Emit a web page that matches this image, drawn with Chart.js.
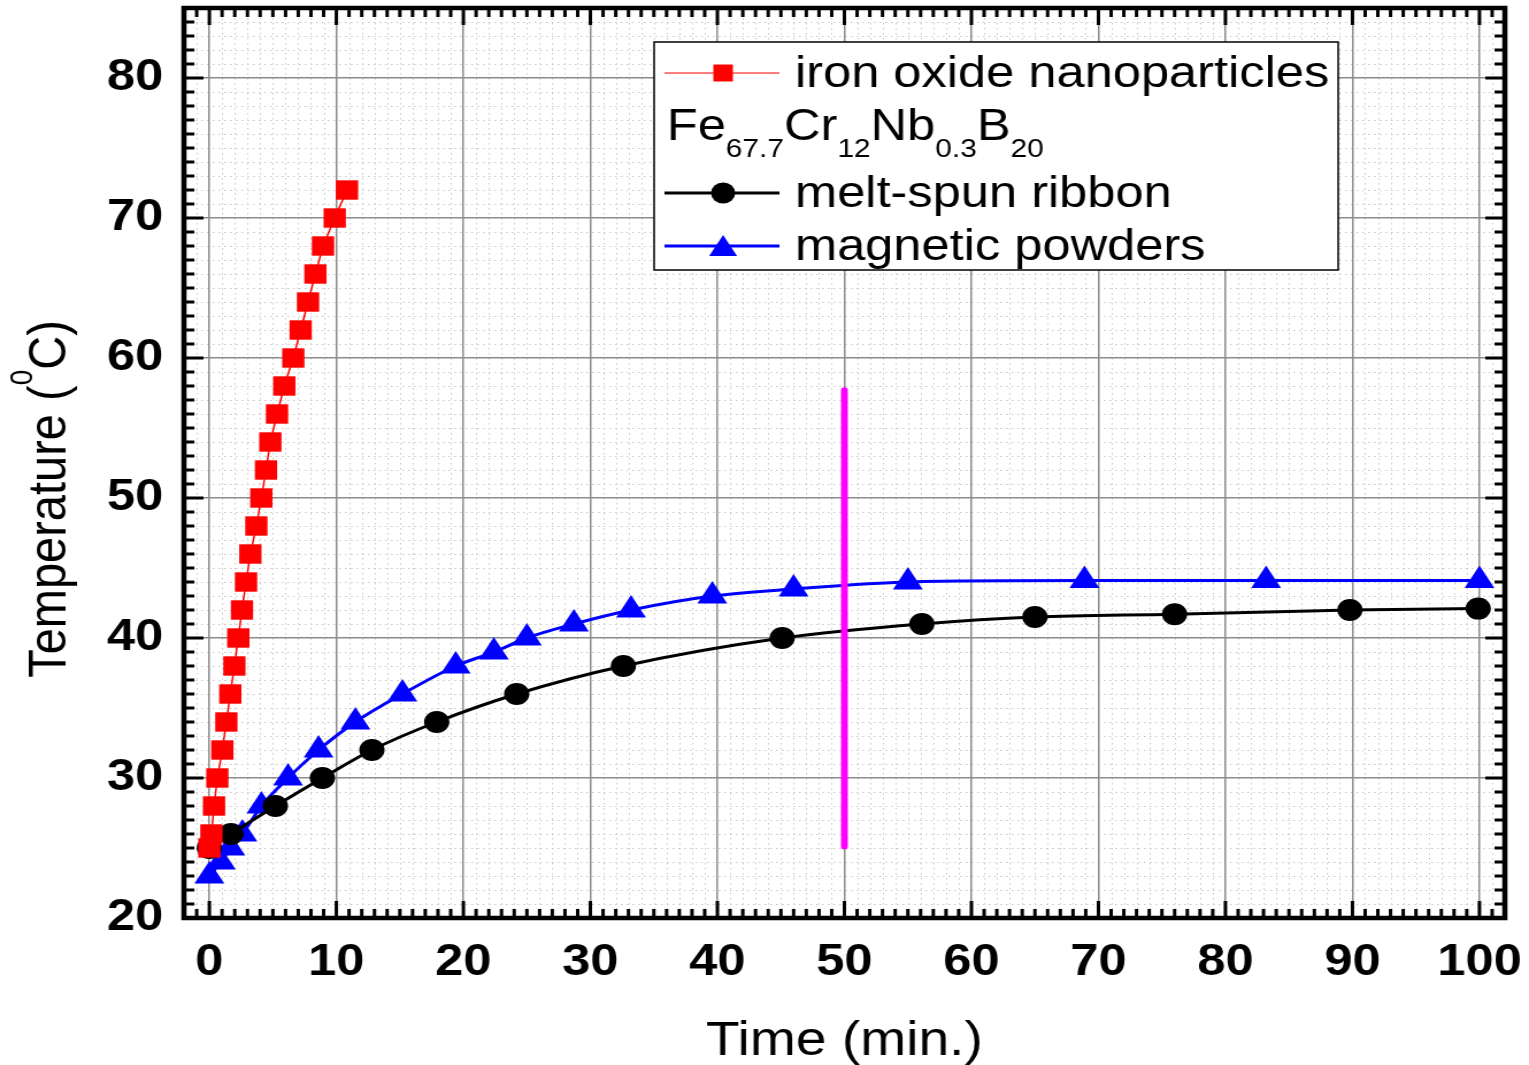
<!DOCTYPE html>
<html>
<head>
<meta charset="utf-8">
<script src="https://cdn.jsdelivr.net/npm/chart.js@4.4.0/dist/chart.umd.min.js"></script>
<style>
  html, body { margin: 0; padding: 0; background: #fff; overflow: hidden; }
  #wrap { width: 1529px; height: 1065px; overflow: hidden; position: relative; }
  /* the figure is laid out on a narrower canvas and widened to the page */
  #c { position: absolute; left: 0; top: 0; transform-origin: 0 0; transform: scaleX(1.14962); }
</style>
</head>
<body>
<div id="wrap"><canvas id="c" width="1330" height="1065"></canvas></div>
<script>
// ---- data ----
const ironTime   = [0, 0.16, 0.37, 0.63, 1.02, 1.34, 1.65, 1.97, 2.28, 2.57, 2.89, 3.23, 3.7, 4.09, 4.46, 4.8, 5.33, 5.9, 6.61, 7.19, 7.77, 8.35, 8.95, 9.87, 10.84];
const ironTemp   = [25, 26, 28, 30, 32, 34, 36, 38, 40, 42, 44, 46, 48, 50, 52, 54, 56, 58, 60, 62, 64, 66, 68, 70, 72];

const ribbonTime = [0, 1.7, 5.2, 8.9, 12.8, 17.9, 24.2, 32.6, 45.1, 56.1, 65.0, 76.0, 89.8, 99.9];
const ribbonTemp = [25, 26, 28, 30, 32, 34, 36, 38, 40, 41, 41.5, 41.7, 42.0, 42.1];

const powderTime = [0, 0.9, 1.65, 2.6, 4.1, 6.2, 8.6, 11.5, 15.2, 19.4, 22.4, 25.0, 28.7, 33.2, 39.6, 46.0, 55.0, 68.9, 83.2, 100];
const powderTemp = [23, 24, 25, 26, 28, 30, 32, 34, 36, 38, 39, 40, 41, 42, 43, 43.5, 44, 44.1, 44.1, 44.1];

const markTime   = [50, 50];
const markTemp   = [25.1, 57.7];

const seriesNames = ['iron oxide nanoparticles', 'melt-spun ribbon', 'magnetic powders'];
const alloyParts  = [['Fe', '67.7'], ['Cr', '12'], ['Nb', '0.3'], ['B', '20']];

const xTickValues = [0, 10, 20, 30, 40, 50, 60, 70, 80, 90, 100];
const yTickValues = [20, 30, 40, 50, 60, 70, 80];
const xRange = [-2, 102];
const yRange = [20, 85];

const xTitle = 'Time (min.)';
const yTitleParts = ['Temperature (', '0', 'C)'];

// ---- helpers ----
const FONT = "'Liberation Sans', Arial, Helvetica, sans-serif";
const pts = (xs, ys) => xs.map((x, i) => ({ x, y: ys[i] }));

// dotted minor grid under everything
const minorGrid = {
  id: 'minorGrid',
  beforeDraw(chart) {
    const { ctx, chartArea: a, scales: { x, y } } = chart;
    ctx.save();
    ctx.strokeStyle = '#c8c8c8';
    ctx.lineWidth = 1;
    ctx.setLineDash([1.5, 3.5]);
    ctx.beginPath();
    for (let v = xRange[0] + 1; v < xRange[1]; v++) {
      if (v % 10 === 0) continue;
      const px = Math.round(x.getPixelForValue(v)) + 0.5;
      ctx.moveTo(px, a.top); ctx.lineTo(px, a.bottom);
    }
    for (let v = yRange[0] + 1; v < yRange[1]; v++) {
      if (v % 10 === 0) continue;
      const py = Math.round(y.getPixelForValue(v)) + 0.5;
      ctx.moveTo(a.left, py); ctx.lineTo(a.right, py);
    }
    ctx.stroke();
    ctx.restore();
  }
};

// heavy frame with inward ticks on all four sides
const frame = {
  id: 'frame',
  afterDatasetsDraw(chart) {
    const { ctx, chartArea: a, scales: { x, y } } = chart;
    ctx.save();
    ctx.strokeStyle = '#000';
    ctx.lineCap = 'butt';
    ctx.lineWidth = 3;
    ctx.beginPath();
    for (let v = xRange[0] + 1; v < xRange[1]; v++) {
      const len = v % 10 === 0 ? 17 : 9;
      const px = x.getPixelForValue(v);
      ctx.moveTo(px, a.bottom); ctx.lineTo(px, a.bottom - len);
      ctx.moveTo(px, a.top); ctx.lineTo(px, a.top + len);
    }
    for (let v = yRange[0] + 1; v < yRange[1]; v++) {
      const len = v % 10 === 0 ? 17 : 9;
      const py = y.getPixelForValue(v);
      ctx.moveTo(a.left, py); ctx.lineTo(a.left + len, py);
      ctx.moveTo(a.right, py); ctx.lineTo(a.right - len, py);
    }
    ctx.stroke();
    ctx.lineWidth = 4.5;
    ctx.strokeRect(a.left, a.top, a.right - a.left, a.bottom - a.top);
    ctx.restore();
  }
};

// rotated y title with superscript
const yTitle = {
  id: 'yTitle',
  afterDraw(chart) {
    const ctx = chart.ctx;
    const big = `47px ${FONT}`, small = `28px ${FONT}`;
    ctx.save();
    ctx.fillStyle = '#000';
    ctx.textBaseline = 'alphabetic';
    ctx.textAlign = 'left';
    ctx.font = big;   const w1 = ctx.measureText(yTitleParts[0]).width;
    ctx.font = small; const w2 = ctx.measureText(yTitleParts[1]).width;
    ctx.font = big;   const w3 = ctx.measureText(yTitleParts[2]).width;
    ctx.translate(57, 499);
    ctx.rotate(-Math.PI / 2);
    let tx = -(w1 + w2 + w3) / 2;
    ctx.font = big;   ctx.fillText(yTitleParts[0], tx, 0); tx += w1;
    ctx.font = small; ctx.fillText(yTitleParts[1], tx, -29); tx += w2;
    ctx.font = big;   ctx.fillText(yTitleParts[2], tx, 0);
    ctx.restore();
  }
};

// boxed legend with the alloy formula as a heading line
const legendBox = {
  id: 'legendBox',
  afterDraw(chart) {
    const ctx = chart.ctx;
    const ds = chart.data.datasets;
    const box = { l: 569, t: 42, r: 1164, b: 270 };
    const lineL = 578, lineR = 678, mark = 629, textX = 691.5;
    ctx.save();
    ctx.fillStyle = '#fff';
    ctx.fillRect(box.l, box.t, box.r - box.l, box.b - box.t);
    ctx.strokeStyle = '#000';
    ctx.lineWidth = 1.5;
    ctx.strokeRect(box.l, box.t, box.r - box.l, box.b - box.t);

    const rows = [
      { d: ds[0], cy: 73, lw: 1, r: 12, my: 73 },
      { d: ds[2], cy: 193, lw: 3, r: 10.5, my: 193 },
      { d: ds[3], cy: 246, lw: 3, r: 14, my: 249 }
    ];
    for (const row of rows) {
      ctx.strokeStyle = row.d.borderColor;
      ctx.lineWidth = row.lw;
      ctx.beginPath();
      ctx.moveTo(lineL, row.cy); ctx.lineTo(lineR, row.cy);
      ctx.stroke();
      ctx.fillStyle = row.d.backgroundColor;
      Chart.helpers.drawPoint(ctx, { pointStyle: row.d.pointStyle, radius: row.r, rotation: 0, borderWidth: 0 }, mark, row.my);
      ctx.fillStyle = '#000';
      ctx.font = `44px ${FONT}`;
      ctx.textBaseline = 'middle';
      ctx.textAlign = 'left';
      ctx.fillText(row.d.label, textX, row.cy + 2);
    }

    // Fe67.7Cr12Nb0.3B20
    ctx.textBaseline = 'alphabetic';
    let cx = 580;
    const base = 140;
    for (const [el, sub] of alloyParts) {
      ctx.font = `44px ${FONT}`;
      ctx.fillText(el, cx, base); cx += ctx.measureText(el).width;
      ctx.font = `26px ${FONT}`;
      ctx.fillText(sub, cx, base + 17); cx += ctx.measureText(sub).width;
    }
    ctx.restore();
  }
};

const tickFont = { family: FONT, size: 44, weight: 'bold' };

new Chart(document.getElementById('c'), {
  type: 'line',
  data: {
    datasets: [
      {
        label: seriesNames[0], data: pts(ironTime, ironTemp),
        borderColor: '#ff0000', backgroundColor: '#ff0000', borderWidth: 1.5,
        pointStyle: 'rect', pointRadius: 13.7, pointBorderWidth: 0, tension: 0, order: 0
      },
      {
        label: '', data: pts(markTime, markTemp),
        borderColor: '#ff00ff', backgroundColor: '#ff00ff', borderWidth: 6,
        borderCapStyle: 'round', pointRadius: 0, order: 1
      },
      {
        label: seriesNames[1], data: pts(ribbonTime, ribbonTemp),
        borderColor: '#000000', backgroundColor: '#000000', borderWidth: 3,
        pointStyle: 'circle', pointRadius: 11, pointBorderWidth: 0,
        cubicInterpolationMode: 'monotone', order: 2
      },
      {
        label: seriesNames[2], data: pts(powderTime, powderTemp),
        borderColor: '#0000ff', backgroundColor: '#0000ff', borderWidth: 3,
        pointStyle: 'triangle', pointRadius: 15, pointBorderWidth: 0,
        cubicInterpolationMode: 'monotone', order: 3
      }
    ]
  },
  options: {
    responsive: false,
    devicePixelRatio: 1,
    animation: false,
    layout: { autoPadding: false, padding: { top: 8, right: 21, bottom: 0, left: 0 } },
    plugins: { legend: { display: false }, tooltip: { enabled: false } },
    scales: {
      x: {
        type: 'linear', min: xRange[0], max: xRange[1],
        afterBuildTicks: s => { s.ticks = xTickValues.map(v => ({ value: v })); },
        afterFit: s => { s.height = 147; s.paddingLeft = 0; s.paddingRight = 0; },
        grid: { color: '#8c8c8c', lineWidth: 1.5, drawTicks: false },
        border: { display: false },
        ticks: { font: tickFont, color: '#000', padding: 18, maxRotation: 0, autoSkip: false },
        title: { display: true, text: xTitle, color: '#000', font: { family: FONT, size: 48, lineHeight: 0.95 }, padding: { top: 0, bottom: 0 } }
      },
      y: {
        type: 'linear', min: yRange[0], max: yRange[1],
        afterBuildTicks: s => { s.ticks = yTickValues.map(v => ({ value: v })); },
        afterFit: s => { s.width = 160; s.paddingTop = 0; s.paddingBottom = 0; },
        grid: { color: '#8c8c8c', lineWidth: 1.5, drawTicks: false },
        border: { display: false },
        ticks: { font: tickFont, color: '#000', padding: 18, autoSkip: false }
      }
    }
  },
  plugins: [minorGrid, frame, yTitle, legendBox]
});
</script>
</body>
</html>
